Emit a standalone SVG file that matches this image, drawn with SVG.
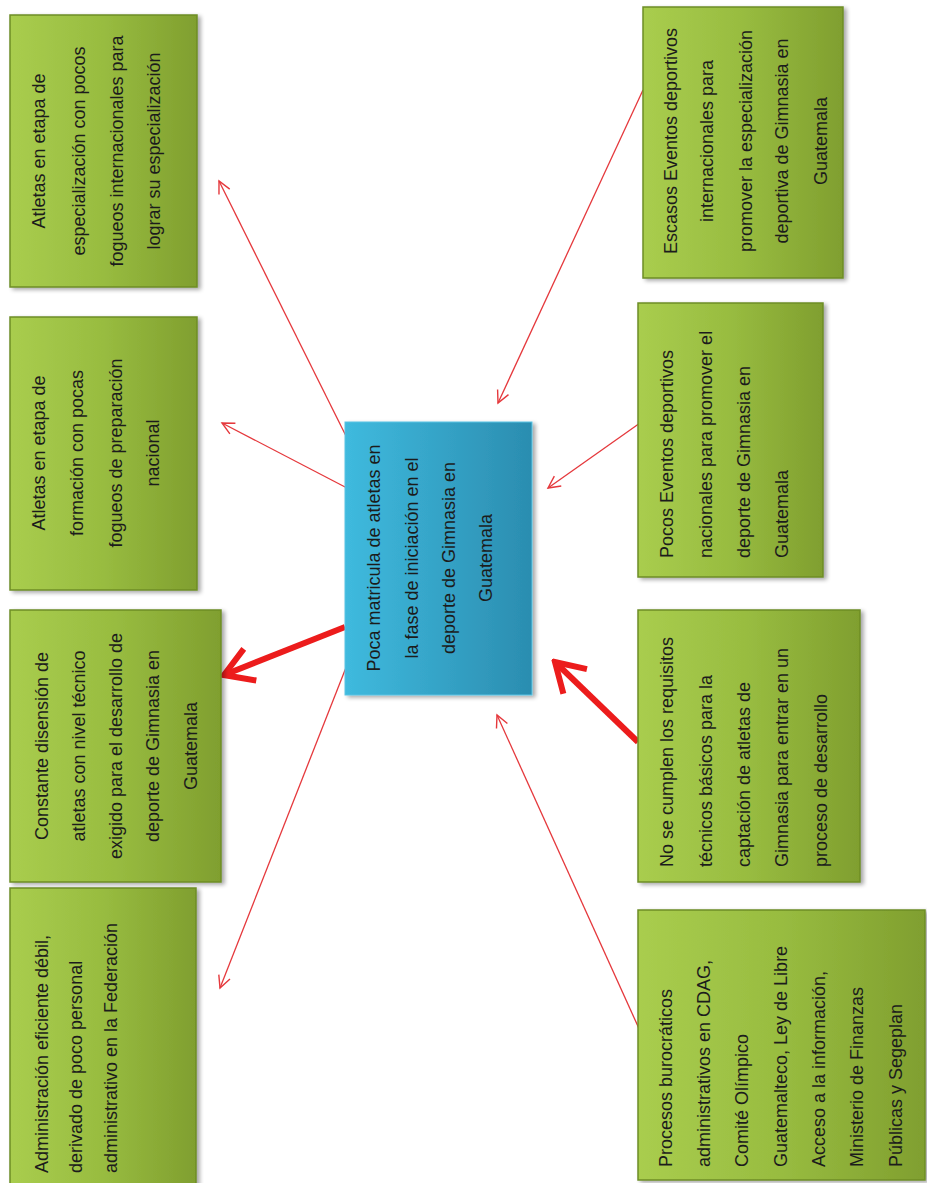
<svg xmlns="http://www.w3.org/2000/svg" width="927" height="1183" viewBox="0 0 927 1183">
<defs>
<linearGradient id="gG" x1="0" y1="0" x2="1" y2="0">
<stop offset="0" stop-color="#a9cd4e"/>
<stop offset="0.5" stop-color="#98bc40"/>
<stop offset="1" stop-color="#809f2f"/>
</linearGradient>
<linearGradient id="gB" x1="0" y1="0" x2="1" y2="0">
<stop offset="0" stop-color="#3fbade"/>
<stop offset="1" stop-color="#2b8db0"/>
</linearGradient>
<filter id="sh" x="-10%" y="-10%" width="125%" height="125%">
<feGaussianBlur in="SourceAlpha" stdDeviation="2"/>
<feOffset dx="3" dy="2" result="o"/>
<feComponentTransfer><feFuncA type="linear" slope="0.35"/></feComponentTransfer>
<feMerge><feMergeNode/><feMergeNode in="SourceGraphic"/></feMerge>
</filter>
<marker id="ah" viewBox="-14 -8 16 16" refX="0" refY="0" markerWidth="16" markerHeight="16" markerUnits="userSpaceOnUse" orient="auto">
<path d="M -12 -6 L 0 0 L -12 6" fill="none" stroke="#e5383c" stroke-width="1.4"/>
</marker>
<marker id="ahT" viewBox="-36 -22 40 44" refX="0" refY="0" markerWidth="40" markerHeight="44" markerUnits="userSpaceOnUse" orient="auto">
<path d="M -28 -17 L 0 0 L -28 17" fill="none" stroke="#ec1c1c" stroke-width="6" stroke-linejoin="miter"/>
</marker>
</defs>
<style>
.g{fill:url(#gG);stroke:#6e8d26;stroke-width:1.5;filter:url(#sh)}
.b{fill:url(#gB);stroke:#5bc3e3;stroke-width:1;filter:url(#sh)}
.t{font-family:"Liberation Sans Narrow","Liberation Sans",sans-serif;font-size:18px;fill:#1c1c1c}
.m{text-anchor:middle}
.s{text-anchor:start}
.c{fill:none;stroke:#e5383c;stroke-width:1.3;marker-end:url(#ah)}
.k{fill:none;stroke:#ec1c1c;stroke-width:6;marker-end:url(#ahT)}
</style>

<g id="connectors">
<line class="c" x1="347" y1="438" x2="219" y2="181"/>
<line class="c" x1="347" y1="488" x2="222" y2="423"/>
<line class="c" x1="643" y1="90" x2="498" y2="403"/>
<line class="c" x1="640" y1="423" x2="548" y2="488"/>
<line class="k" x1="345" y1="627" x2="224" y2="675"/>
<line class="c" x1="347" y1="665" x2="220" y2="988"/>
<line class="k" x1="638" y1="742" x2="555" y2="662"/>
<line class="c" x1="641" y1="1033" x2="497" y2="715"/>
</g>

<g id="n-center">
<rect class="b" x="345" y="422" width="187" height="273"/>
<g class="t m">
<text transform="translate(380,558) rotate(-90)">Poca matricula de atletas en</text>
<text transform="translate(418,558) rotate(-90)">la fase de iniciación en el</text>
<text transform="translate(455,558) rotate(-90)">deporte de Gimnasia en</text>
<text transform="translate(492,558) rotate(-90)">Guatemala</text>
</g>
</g>

<g id="n-l1">
<rect class="g" x="10" y="15" width="187" height="272"/>
<g class="t m">
<text transform="translate(45,151) rotate(-90)">Atletas en etapa de</text>
<text transform="translate(85,151) rotate(-90)">especialización con pocos</text>
<text transform="translate(123,151) rotate(-90)">fogueos internacionales para</text>
<text transform="translate(160,151) rotate(-90)">lograr su especialización</text>
</g>
</g>

<g id="n-l2">
<rect class="g" x="10" y="317" width="187" height="273"/>
<g class="t m">
<text transform="translate(45,453) rotate(-90)">Atletas en etapa de</text>
<text transform="translate(83,453) rotate(-90)">formación con pocas</text>
<text transform="translate(122,453) rotate(-90)">fogueos de preparación</text>
<text transform="translate(159,453) rotate(-90)">nacional</text>
</g>
</g>

<g id="n-l3">
<rect class="g" x="10" y="610" width="211" height="272"/>
<g class="t m">
<text transform="translate(48,746) rotate(-90)">Constante  disensión de</text>
<text transform="translate(85,746) rotate(-90)">atletas con nivel técnico</text>
<text transform="translate(122,746) rotate(-90)">exigido para el desarrollo de</text>
<text transform="translate(159,746) rotate(-90)">deporte de Gimnasia en</text>
<text transform="translate(197,746) rotate(-90)">Guatemala</text>
</g>
</g>

<g id="n-l4">
<rect class="g" x="10" y="888" width="186" height="300"/>
<g class="t s">
<text transform="translate(48,1173) rotate(-90)">Administración eficiente débil,</text>
<text transform="translate(82,1173) rotate(-90)">derivado de poco personal</text>
<text transform="translate(117,1173) rotate(-90)">administrativo en la Federación</text>
</g>
</g>

<g id="n-r1">
<rect class="g" x="643" y="7" width="200" height="271"/>
<g class="t m">
<text transform="translate(677,141) rotate(-90)">Escasos Eventos deportivos</text>
<text transform="translate(713,141) rotate(-90)">internacionales para</text>
<text transform="translate(752,141) rotate(-90)">promover la especialización</text>
<text transform="translate(788,141) rotate(-90)">deportiva de Gimnasia en</text>
<text transform="translate(827,141) rotate(-90)">Guatemala</text>
</g>
</g>

<g id="n-r2">
<rect class="g" x="638" y="303" width="185" height="274"/>
<g class="t s">
<text transform="translate(673,558) rotate(-90)">Pocos Eventos deportivos</text>
<text transform="translate(712,558) rotate(-90)">nacionales para promover el</text>
<text transform="translate(750,558) rotate(-90)">deporte de Gimnasia en</text>
<text transform="translate(788,558) rotate(-90)">Guatemala</text>
</g>
</g>

<g id="n-r3">
<rect class="g" x="638" y="610" width="222" height="272"/>
<g class="t s">
<text transform="translate(673,867) rotate(-90)">No se cumplen los requisitos</text>
<text transform="translate(712,867) rotate(-90)">técnicos básicos para la</text>
<text transform="translate(750,867) rotate(-90)">captación de atletas de</text>
<text transform="translate(788,867) rotate(-90)">Gimnasia para entrar en un</text>
<text transform="translate(827,867) rotate(-90)">proceso de desarrollo</text>
</g>
</g>

<g id="n-r4">
<rect class="g" x="638" y="910" width="287" height="270"/>
<g class="t s">
<text transform="translate(672,1167) rotate(-90)">Procesos  burocráticos</text>
<text transform="translate(710,1167) rotate(-90)">administrativos en CDAG,</text>
<text transform="translate(748,1167) rotate(-90)">Comité Olímpico</text>
<text transform="translate(787,1167) rotate(-90)">Guatemalteco, Ley de Libre</text>
<text transform="translate(825,1167) rotate(-90)">Acceso a la información,</text>
<text transform="translate(863,1167) rotate(-90)">Ministerio de Finanzas</text>
<text transform="translate(902,1167) rotate(-90)">Públicas y Segeplan</text>
</g>
</g>
</svg>
